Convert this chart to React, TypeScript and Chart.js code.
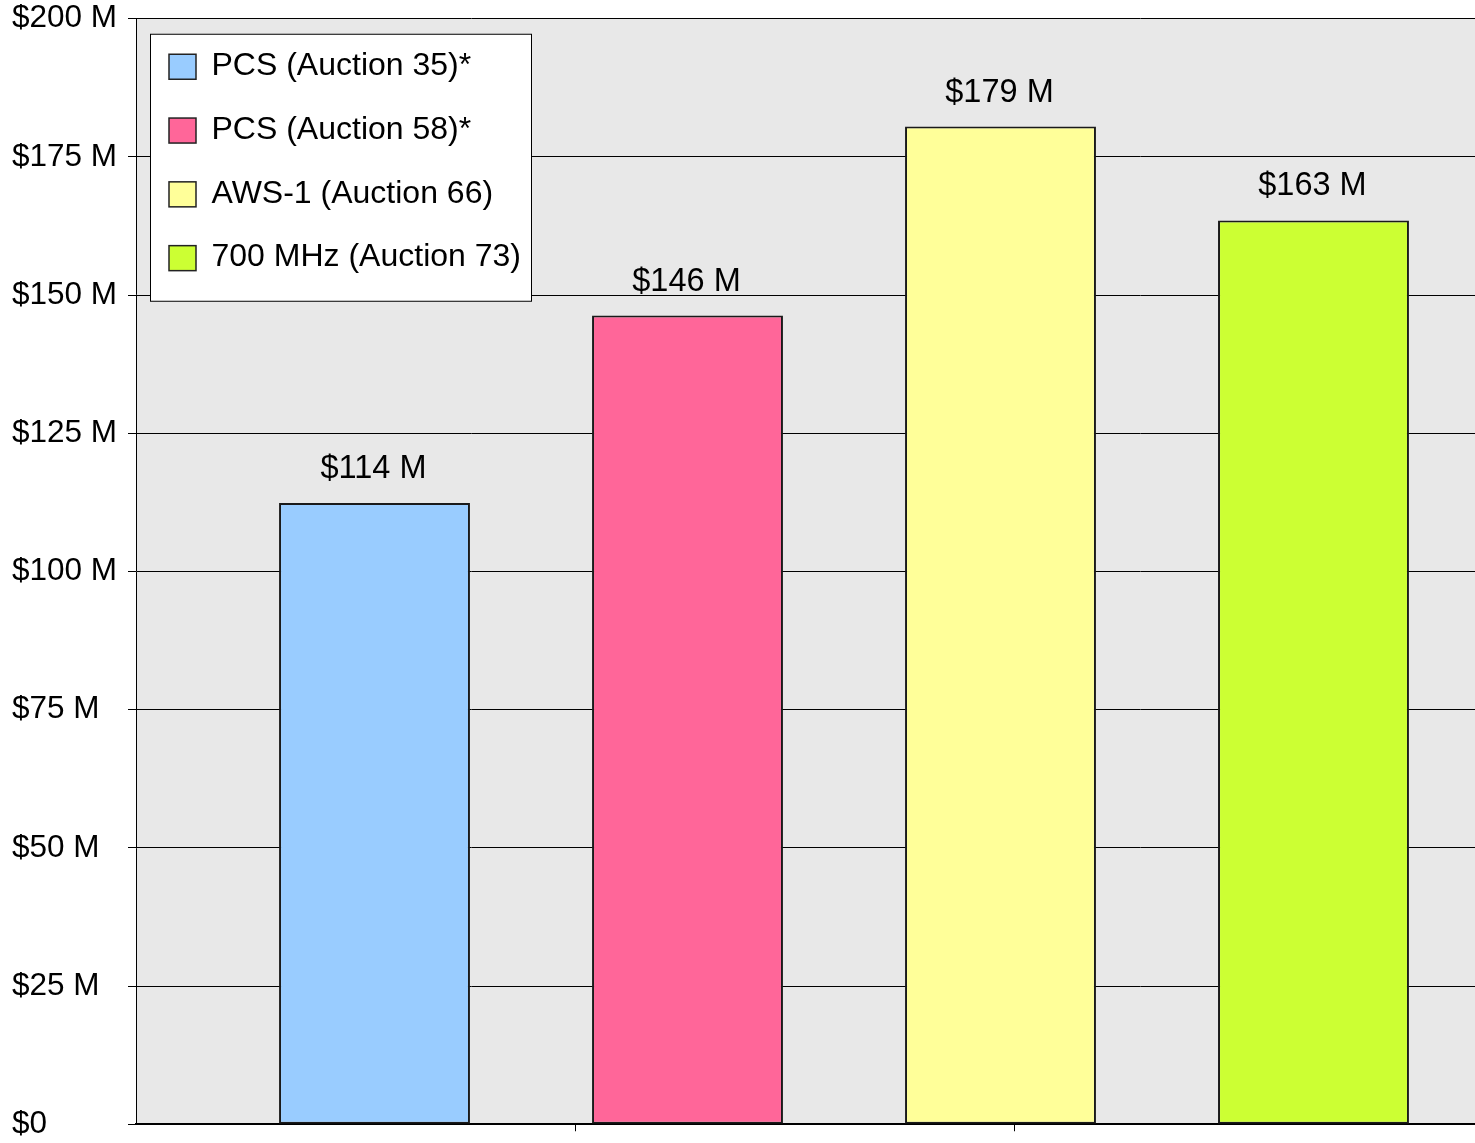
import React, { useEffect, useRef } from "react";
import { Chart, registerables } from "chart.js";

Chart.register(...registerables);

const categories = [
  "PCS (Auction 35)*",
  "PCS (Auction 58)*",
  "AWS-1 (Auction 66)",
  "700 MHz (Auction 73)",
];
const barValues = [112.4, 146.3, 180.5, 163.5];
const valueLabels = ["$114 M", "$146 M", "$179 M", "$163 M"];
const barColors = ["#99CCFF", "#FF6699", "#FFFF99", "#CCFF33"];
const yTickValues = [0, 25, 50, 75, 100, 125, 150, 175, 200];
const xAxisTickMarks = [0.6406, 2.046];

const FONT = '"Liberation Sans", Arial, sans-serif';
const TICK_SIZE = 31.5;
const LEGEND_SIZE = 32;
const VALUE_SIZE = 32.5;

const bgPlugin = {
  id: "plotBg",
  beforeDraw(chart: any) {
    const { ctx, chartArea } = chart;
    ctx.save();
    ctx.fillStyle = "#E8E8E8";
    ctx.fillRect(chartArea.left, chartArea.top, chartArea.right - chartArea.left, chartArea.bottom - chartArea.top);
    ctx.restore();
  },
};

const labelPlugin = {
  id: "valueLabels",
  afterDatasetsDraw(chart: any) {
    const { ctx } = chart;
    const meta = chart.getDatasetMeta(0);
    ctx.save();
    ctx.font = `${VALUE_SIZE}px ${FONT}`;
    ctx.fillStyle = "#000";
    ctx.textAlign = "center";
    ctx.textBaseline = "middle";
    meta.data.forEach((el: any, i: number) => {
      ctx.fillText(valueLabels[i], el.x - 1, el.y - 34);
    });
    ctx.restore();
  },
};

const legendPlugin = {
  id: "boxLegend",
  afterDraw(chart: any) {
    const { ctx, chartArea } = chart;
    const x0 = chartArea.left + 14.5;
    const y0 = chartArea.top + 15.5;
    const w = 381;
    const h = 267;
    ctx.save();
    ctx.fillStyle = "#FFFFFF";
    ctx.fillRect(x0, y0, w, h);
    ctx.strokeStyle = "#000";
    ctx.lineWidth = 1;
    ctx.strokeRect(x0, y0, w, h);
    ctx.font = `${LEGEND_SIZE}px ${FONT}`;
    ctx.textBaseline = "middle";
    ctx.textAlign = "left";
    categories.forEach((c, i) => {
      const cy = y0 + 32 + i * 63.8;
      ctx.fillStyle = barColors[i];
      ctx.fillRect(x0 + 18.5, cy - 12, 27, 25);
      ctx.strokeStyle = "#222";
      ctx.lineWidth = 1.5;
      ctx.strokeRect(x0 + 18.5, cy - 12, 27, 25);
      ctx.fillStyle = "#000";
      ctx.fillText(c, x0 + 61, cy);
    });
    ctx.restore();
  },
};

export default function App() {
  const ref = useRef<HTMLCanvasElement>(null);
  useEffect(() => {
    if (!ref.current) return;
    const chart = new Chart(ref.current, {
      type: "bar",
      data: {
        datasets: [
          {
            label: "Value",
            data: barValues.map((v, i) => ({ x: i, y: v })) as any,
            backgroundColor: barColors,
            borderColor: "#1a1a1a",
            borderWidth: 2,
            borderSkipped: false,
            barPercentage: 0.61,
            categoryPercentage: 1,
          },
        ],
      },
      options: {
        animation: false,
        responsive: false,
        layout: { padding: { left: 12, top: 17, right: 0, bottom: 0 } },
        plugins: { legend: { display: false }, tooltip: { enabled: false } },
        scales: {
          x: {
            type: "linear",
            offset: false,
            min: -0.762,
            max: 3.516,
            ticks: { display: false },
            afterBuildTicks: (scale: any) => {
              scale.ticks = xAxisTickMarks.map((v) => ({ value: v }));
            },
            afterFit: (scale: any) => {
              scale.height = 18;
            },
            grid: { offset: false, drawOnChartArea: false, tickLength: 7, color: "#000", lineWidth: 1 },
            border: { display: true, color: "#000", width: 2 },
          },
          y: {
            min: 0,
            max: 200,
            afterBuildTicks: (scale: any) => {
              scale.ticks = yTickValues.map((v) => ({ value: v }));
            },
            afterFit: (scale: any) => {
              scale.width = 124;
            },
            ticks: {
              stepSize: 25,
              crossAlign: "far",
              color: "#000",
              font: { family: FONT, size: TICK_SIZE, lineHeight: 1 },
              callback: (v: any) => (v === 0 ? "$0" : `$${v} M`),
            },
            grid: { color: "#000", lineWidth: 1, tickLength: 8 },
            border: { display: true, color: "#000", width: 1 },
          },
        },
      },
      plugins: [bgPlugin, labelPlugin, legendPlugin],
    });
    return () => chart.destroy();
  }, []);
  return (
    <div style={{ position: "fixed", left: 0, top: 0, width: 1475, height: 1143, background: "#fff" }}>
      <canvas ref={ref} width={1475} height={1143} style={{ display: "block" }} />
    </div>
  );
}
